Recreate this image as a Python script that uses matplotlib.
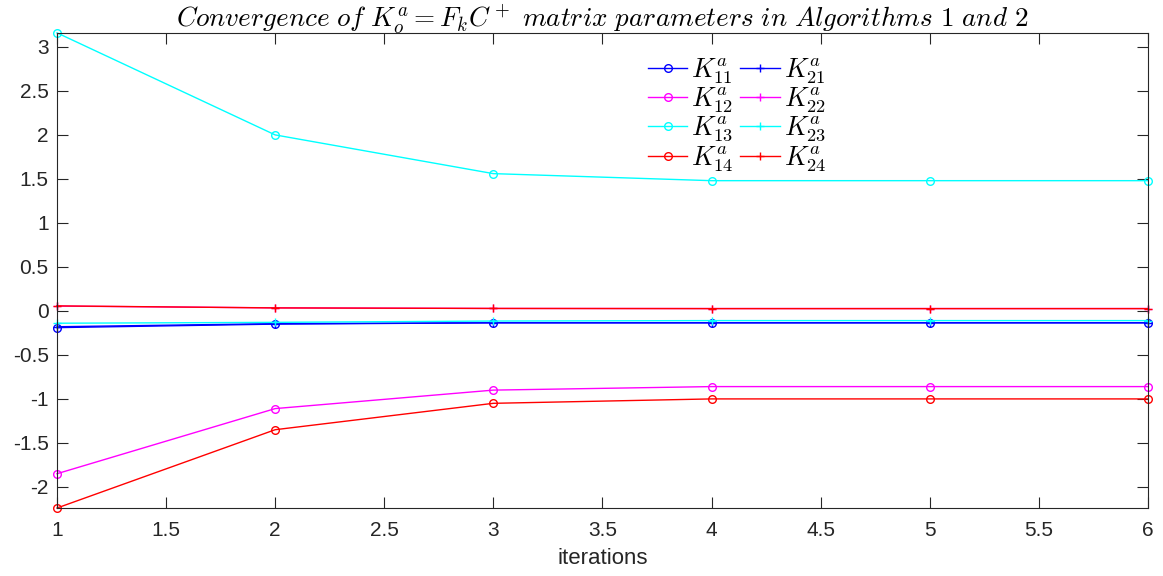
import matplotlib
matplotlib.use("Agg")
import matplotlib.pyplot as plt

plt.rcParams['mathtext.fontset'] = 'cm'
plt.rcParams['font.family'] = ['Liberation Sans', 'DejaVu Sans']

iterations = [1, 2, 3, 4, 5, 6]

# first row of K_o^a (plotted with circles)
k11 = [-0.19, -0.15, -0.135, -0.135, -0.135, -0.135]
k12 = [-1.85, -1.11, -0.90, -0.86, -0.86, -0.86]
k13 = [3.16, 2.00, 1.56, 1.48, 1.48, 1.48]
k14 = [-2.24, -1.35, -1.05, -1.00, -1.00, -1.00]

# second row of K_o^a (plotted with plus markers)
k21 = [-0.18, -0.145, -0.135, -0.135, -0.135, -0.135]
k22 = [0.055, 0.035, 0.028, 0.027, 0.027, 0.027]
k23 = [-0.14, -0.13, -0.115, -0.11, -0.11, -0.11]
k24 = [0.057, 0.034, 0.028, 0.026, 0.026, 0.026]

BLUE, MAGENTA, CYAN, RED = '#0000ff', '#ff00ff', '#00ffff', '#ff0000'

fig = plt.figure(figsize=(11.63, 5.76), dpi=100)
ax = fig.add_axes([0.049, 0.118, 0.938, 0.825])

series = [
    (k11, BLUE, 'o', r'$K^a_{11}$'),
    (k21, BLUE, '+', r'$K^a_{21}$'),
    (k12, MAGENTA, 'o', r'$K^a_{12}$'),
    (k22, MAGENTA, '+', r'$K^a_{22}$'),
    (k13, CYAN, 'o', r'$K^a_{13}$'),
    (k23, CYAN, '+', r'$K^a_{23}$'),
    (k14, RED, 'o', r'$K^a_{14}$'),
    (k24, RED, '+', r'$K^a_{24}$'),
]
lines = {}
for vals, col, mk, lab in series:
    ln, = ax.plot(iterations, vals, color=col, marker=mk, markersize=5.5,
                  markerfacecolor='none', linewidth=1.0, label=lab,
                  clip_on=False)
    lines[lab] = ln

order = [r'$K^a_{11}$', r'$K^a_{12}$', r'$K^a_{13}$', r'$K^a_{14}$',
         r'$K^a_{21}$', r'$K^a_{22}$', r'$K^a_{23}$', r'$K^a_{24}$']
ax.legend([lines[o] for o in order], order, ncol=2, frameon=False,
          fontsize=19, loc='upper left', bbox_to_anchor=(0.527, 0.985),
          handlelength=1.5, columnspacing=0.25, handletextpad=0.15,
          labelspacing=0.0, borderpad=0.1)

ax.set_xlim(1, 6)
ax.set_ylim(-2.24, 3.16)
ax.set_xticks([1, 1.5, 2, 2.5, 3, 3.5, 4, 4.5, 5, 5.5, 6])
ax.set_xticklabels(['1', '1.5', '2', '2.5', '3', '3.5', '4', '4.5', '5', '5.5', '6'])
ax.set_yticks([-2, -1.5, -1, -0.5, 0, 0.5, 1, 1.5, 2, 2.5, 3])
ax.set_yticklabels(['-2', '-1.5', '-1', '-0.5', '0', '0.5', '1', '1.5', '2', '2.5', '3'])
ax.tick_params(direction='in', length=8, width=0.8, labelsize=15,
               top=True, right=True, colors='#262626', labelcolor='#262626')
ax.tick_params(axis='x', pad=9)
ax.tick_params(axis='y', pad=6)
for s in ax.spines.values():
    s.set_color('#262626')
    s.set_linewidth(0.8)

ax.set_xlabel('iterations', fontsize=16, color='#262626', labelpad=6)
ax.set_title(r'$\mathit{Convergence\ of}\ K^a_o=F_kC^+\ \mathit{matrix\ parameters\ in\ Algorithms}\ 1\ \mathit{and}\ 2$',
             fontsize=19.5, pad=4)

fig.savefig('out.png', dpi=100)
